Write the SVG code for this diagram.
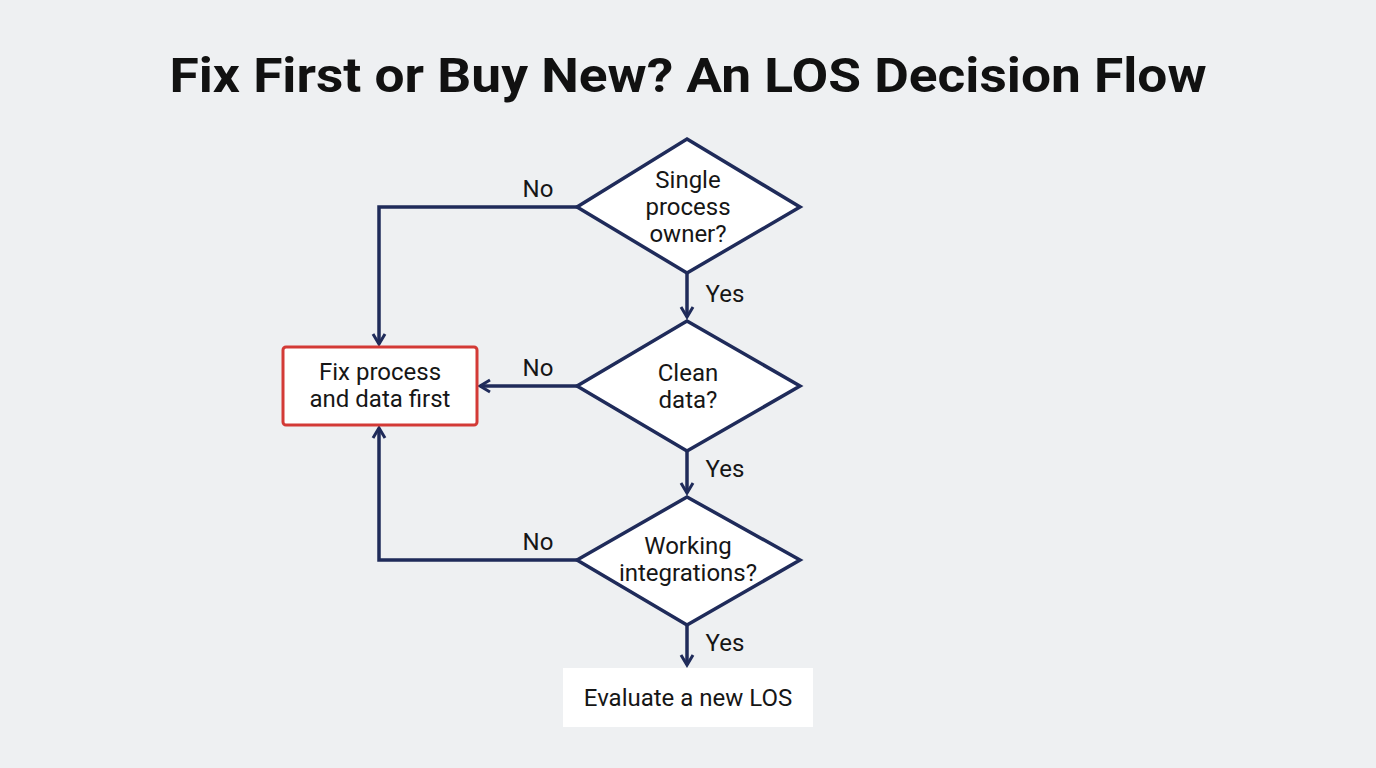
<svg xmlns="http://www.w3.org/2000/svg" width="1376" height="768" viewBox="0 0 1376 768">
<defs>
<marker id="chev" viewBox="0 0 16 16" refX="13" refY="8" markerWidth="16" markerHeight="16" markerUnits="userSpaceOnUse" orient="auto">
<path d="M3,2 L13,8 L3,14" fill="none" stroke="#1f2b5a" stroke-width="3" stroke-linejoin="miter"/>
</marker>
<style>
.bg{fill:#eef0f2}
.title{font-family:Roboto,"Liberation Sans",sans-serif;font-weight:700;font-size:49px;fill:#111}
.t{font-family:Roboto,"Liberation Sans",sans-serif;font-size:24px;fill:#161616;text-anchor:middle}
.lbl{font-family:Roboto,"Liberation Sans",sans-serif;font-size:24px;fill:#161616;text-anchor:middle}
.dia{fill:#fff;stroke:#1f2b5a;stroke-width:3.5;stroke-linejoin:miter}
.ln{fill:none;stroke:#1f2b5a;stroke-width:3.5;marker-end:url(#chev)}
</style>
</defs>
<rect class="bg" x="0" y="0" width="1376" height="768"/>
<text class="title" x="688" y="92" text-anchor="middle" textLength="1037" lengthAdjust="spacingAndGlyphs">Fix First or Buy New? An LOS Decision Flow</text>
<g id="connectors">
<path class="ln" d="M577,207 L379,207 L379,344"/>
<path class="ln" d="M687,273 L687,317"/>
<path class="ln" d="M577,386 L480,386"/>
<path class="ln" d="M687,451 L687,493"/>
<path class="ln" d="M577,560 L379,560 L379,428"/>
<path class="ln" d="M687,625 L687,665"/>
<text class="lbl" x="538" y="197">No</text>
<text class="lbl" x="725" y="302">Yes</text>
<text class="lbl" x="538" y="376">No</text>
<text class="lbl" x="725" y="477">Yes</text>
<text class="lbl" x="538" y="550">No</text>
<text class="lbl" x="725" y="651">Yes</text>
</g>
<g id="d1">
<polygon class="dia" points="687,139 800,207 687,273 577,207"/>
<text class="t" x="688" y="188">Single</text>
<text class="t" x="688" y="215">process</text>
<text class="t" x="688" y="242">owner?</text>
</g>
<g id="d2">
<polygon class="dia" points="687,321 800,386 687,451 577,386"/>
<text class="t" x="688" y="381">Clean</text>
<text class="t" x="688" y="408">data?</text>
</g>
<g id="d3">
<polygon class="dia" points="687,497 800,560 687,625 577,560"/>
<text class="t" x="688" y="554">Working</text>
<text class="t" x="688" y="581">integrations?</text>
</g>
<g id="fix">
<rect x="283" y="347" width="194" height="78" rx="3" fill="#fff" stroke="#d33a36" stroke-width="3"/>
<text class="t" x="380" y="380">Fix process</text>
<text class="t" x="380" y="407">and data first</text>
</g>
<g id="eval">
<rect x="563" y="668" width="250" height="59" fill="#fff"/>
<text class="t" x="688" y="706">Evaluate a new LOS</text>
</g>
</svg>
